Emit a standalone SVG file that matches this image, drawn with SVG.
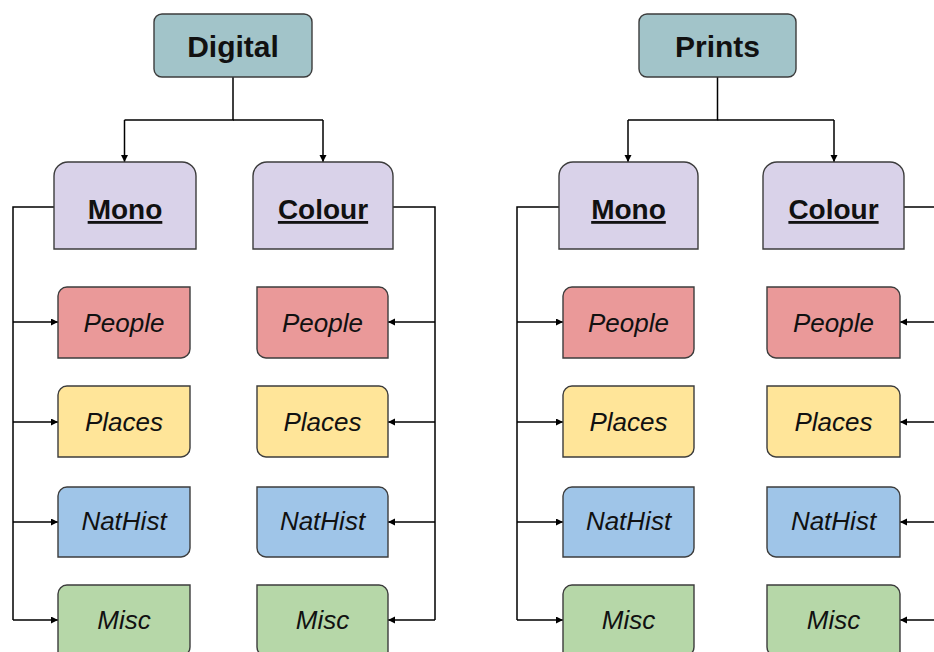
<svg xmlns="http://www.w3.org/2000/svg" width="934" height="652" viewBox="0 0 934 652">
<defs>
<marker id="arr" markerWidth="8" markerHeight="8" refX="7" refY="3.5" orient="auto" markerUnits="userSpaceOnUse">
<path d="M0,0 L7,3.5 L0,7 Z" fill="#000"/>
</marker>
<style>
.box{stroke:#3c3c3c;stroke-width:1.4}
.root{fill:#a2c4c9}
.cat{fill:#d9d2e9}
.people{fill:#ea9999}
.places{fill:#ffe599}
.nat{fill:#9fc5e8}
.misc{fill:#b6d7a8}
.t{font-family:"Liberation Sans",Arial,sans-serif;fill:#111;text-anchor:middle}
.tr{font-size:30px;font-weight:bold}
.tc{font-size:28px;font-weight:bold;text-decoration:underline}
.ti{font-size:26px;font-style:italic}
.c{fill:none;stroke:#000;stroke-width:1.5}
.a{fill:none;stroke:#000;stroke-width:1.5;marker-end:url(#arr)}
</style>
</defs>
<rect width="934" height="652" fill="#fff"/>
<g id="connectors">
<path class="c" d="M233,77 V120 H124.5"/>
<path class="a" d="M124.5,120 V162"/>
<path class="c" d="M233,120 H323"/>
<path class="a" d="M323,120 V162"/>
<path class="c" d="M717.5,77 V120 H628"/>
<path class="a" d="M628,120 V162"/>
<path class="c" d="M717.5,120 H834"/>
<path class="a" d="M834,120 V162"/>
<path class="c" d="M54,207 H13 V620"/>
<path class="a" d="M13,322 H58"/>
<path class="a" d="M13,422 H58"/>
<path class="a" d="M13,522 H58"/>
<path class="a" d="M13,620 H58"/>
<path class="c" d="M393,207 H435 V620"/>
<path class="a" d="M435,322 H388"/>
<path class="a" d="M435,422 H388"/>
<path class="a" d="M435,522 H388"/>
<path class="a" d="M435,620 H388"/>
<path class="c" d="M559,207 H517 V620"/>
<path class="a" d="M517,322 H563"/>
<path class="a" d="M517,422 H563"/>
<path class="a" d="M517,522 H563"/>
<path class="a" d="M517,620 H563"/>
<path class="c" d="M904,207 H946 V620"/>
<path class="a" d="M946,322 H900"/>
<path class="a" d="M946,422 H900"/>
<path class="a" d="M946,522 H900"/>
<path class="a" d="M946,620 H900"/>
</g>
<g id="digital"><rect class="box root" x="154" y="14" width="158" height="63" rx="8"/><text class="t tr" x="233" y="57">Digital</text></g>
<g id="prints"><rect class="box root" x="639" y="14" width="157" height="63" rx="8"/><text class="t tr" x="717.5" y="57">Prints</text></g>
<g id="digital-mono"><path class="box cat" d="M54,249 V176 A14,14 0 0 1 68,162 H182 A14,14 0 0 1 196,176 V249 Z"/><text class="t tc" x="125" y="219">Mono</text></g>
<g id="digital-colour"><path class="box cat" d="M253,249 V176 A14,14 0 0 1 267,162 H379 A14,14 0 0 1 393,176 V249 Z"/><text class="t tc" x="323" y="219">Colour</text></g>
<g id="prints-mono"><path class="box cat" d="M559,249 V176 A14,14 0 0 1 573,162 H684 A14,14 0 0 1 698,176 V249 Z"/><text class="t tc" x="628.5" y="219">Mono</text></g>
<g id="prints-colour"><path class="box cat" d="M763,249 V176 A14,14 0 0 1 777,162 H890 A14,14 0 0 1 904,176 V249 Z"/><text class="t tc" x="833.5" y="219">Colour</text></g>

<g id="dm-people"><path class="box people" d="M58,296 A9,9 0 0 1 67,287 H190 V349 A9,9 0 0 1 181,358 H58 Z"/><text class="t ti" x="124" y="332">People</text></g>
<g id="dm-places"><path class="box places" d="M58,395 A9,9 0 0 1 67,386 H190 V448 A9,9 0 0 1 181,457 H58 Z"/><text class="t ti" x="124" y="431">Places</text></g>
<g id="dm-nathist"><path class="box nat" d="M58,496 A9,9 0 0 1 67,487 H190 V548 A9,9 0 0 1 181,557 H58 Z"/><text class="t ti" x="124" y="530">NatHist</text></g>
<g id="dm-misc"><path class="box misc" d="M58,594 A9,9 0 0 1 67,585 H190 V647 A9,9 0 0 1 181,656 H58 Z"/><text class="t ti" x="124" y="629">Misc</text></g>

<g id="dc-people"><path class="box people" d="M257,287 H379 A9,9 0 0 1 388,296 V358 H266 A9,9 0 0 1 257,349 Z"/><text class="t ti" x="322.5" y="332">People</text></g>
<g id="dc-places"><path class="box places" d="M257,386 H379 A9,9 0 0 1 388,395 V457 H266 A9,9 0 0 1 257,448 Z"/><text class="t ti" x="322.5" y="431">Places</text></g>
<g id="dc-nathist"><path class="box nat" d="M257,487 H379 A9,9 0 0 1 388,496 V557 H266 A9,9 0 0 1 257,548 Z"/><text class="t ti" x="322.5" y="530">NatHist</text></g>
<g id="dc-misc"><path class="box misc" d="M257,585 H379 A9,9 0 0 1 388,594 V656 H266 A9,9 0 0 1 257,647 Z"/><text class="t ti" x="322.5" y="629">Misc</text></g>

<g id="pm-people"><path class="box people" d="M563,296 A9,9 0 0 1 572,287 H694 V349 A9,9 0 0 1 685,358 H563 Z"/><text class="t ti" x="628.5" y="332">People</text></g>
<g id="pm-places"><path class="box places" d="M563,395 A9,9 0 0 1 572,386 H694 V448 A9,9 0 0 1 685,457 H563 Z"/><text class="t ti" x="628.5" y="431">Places</text></g>
<g id="pm-nathist"><path class="box nat" d="M563,496 A9,9 0 0 1 572,487 H694 V548 A9,9 0 0 1 685,557 H563 Z"/><text class="t ti" x="628.5" y="530">NatHist</text></g>
<g id="pm-misc"><path class="box misc" d="M563,594 A9,9 0 0 1 572,585 H694 V647 A9,9 0 0 1 685,656 H563 Z"/><text class="t ti" x="628.5" y="629">Misc</text></g>

<g id="pc-people"><path class="box people" d="M767,287 H891 A9,9 0 0 1 900,296 V358 H776 A9,9 0 0 1 767,349 Z"/><text class="t ti" x="833.5" y="332">People</text></g>
<g id="pc-places"><path class="box places" d="M767,386 H891 A9,9 0 0 1 900,395 V457 H776 A9,9 0 0 1 767,448 Z"/><text class="t ti" x="833.5" y="431">Places</text></g>
<g id="pc-nathist"><path class="box nat" d="M767,487 H891 A9,9 0 0 1 900,496 V557 H776 A9,9 0 0 1 767,548 Z"/><text class="t ti" x="833.5" y="530">NatHist</text></g>
<g id="pc-misc"><path class="box misc" d="M767,585 H891 A9,9 0 0 1 900,594 V656 H776 A9,9 0 0 1 767,647 Z"/><text class="t ti" x="833.5" y="629">Misc</text></g>
</svg>
